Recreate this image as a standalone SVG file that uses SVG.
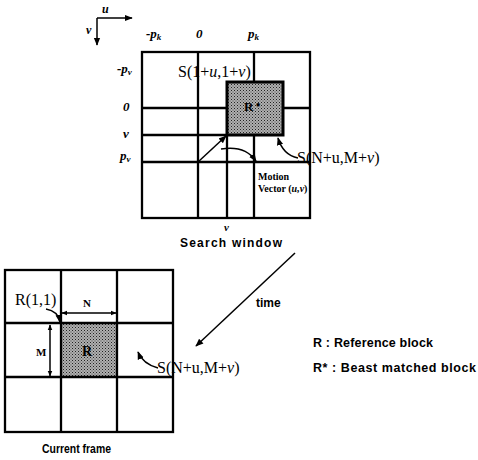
<svg xmlns="http://www.w3.org/2000/svg" width="478" height="460" viewBox="0 0 478 460">
<defs>
<pattern id="stip" width="3" height="3" patternUnits="userSpaceOnUse">
<rect width="3" height="3" fill="#b0b0b0"/>
<rect x="0" y="0" width="1" height="1" fill="#222"/>
<rect x="1.5" y="1.5" width="1" height="1" fill="#444"/>
</pattern>
<marker id="ah" viewBox="0 0 10 10" refX="9" refY="5" markerWidth="8" markerHeight="8" orient="auto-start-reverse" markerUnits="userSpaceOnUse"><path d="M0,1 L10,5 L0,9 z" fill="#000"/></marker>
<marker id="ahs" viewBox="0 0 10 10" refX="9" refY="5" markerWidth="6" markerHeight="6" orient="auto-start-reverse" markerUnits="userSpaceOnUse"><path d="M0,1 L10,5 L0,9 z" fill="#000"/></marker>
</defs>
<style>
.g{stroke:#000;stroke-width:2.3;fill:none}
.ser{font-family:"Liberation Serif","Times New Roman",serif;fill:#000}
.sb{font-family:"Liberation Serif","Times New Roman",serif;font-weight:bold;font-style:italic;fill:#000}
.sans{font-family:"Liberation Sans",Arial,sans-serif;font-weight:bold;fill:#000}
.c{stroke:#000;stroke-width:1.5;fill:none}
</style>
<rect width="478" height="460" fill="#fff"/>

<g id="axes">
<line class="c" x1="97" y1="18" x2="132" y2="18" marker-end="url(#ah)"/>
<line class="c" x1="97" y1="18" x2="97" y2="45" marker-end="url(#ah)"/>
<text class="sb" x="102" y="13" font-size="12">u</text>
<text class="sb" x="86" y="34" font-size="12">v</text>
</g>

<g id="search-window">
<rect x="142" y="52" width="168" height="166" class="g" stroke-width="2.6"/>
<line class="g" x1="198" y1="52" x2="198" y2="218"/>
<line class="g" x1="254" y1="52" x2="254" y2="218"/>
<line class="g" x1="142" y1="108" x2="310" y2="108"/>
<line class="g" x1="142" y1="162" x2="310" y2="162"/>
<line class="g" x1="142" y1="135" x2="227" y2="135"/>
<line class="g" x1="227" y1="135" x2="227" y2="218"/>
<rect x="227" y="82" width="56" height="53" fill="url(#stip)" stroke="#000" stroke-width="3"/>
<text class="ser" x="244" y="111" font-size="13" font-weight="bold">R</text>
<text class="ser" x="256" y="109" font-size="12" font-weight="bold">•</text>
<text class="ser" x="178" y="77" font-size="16">S(1+<tspan font-style="italic">u</tspan>,1+<tspan font-style="italic">v</tspan>)</text>
<text class="sb" x="146" y="38" font-size="13">-p<tspan font-size="9" dy="2">k</tspan></text>
<text class="sb" x="196" y="38" font-size="13">0</text>
<text class="sb" x="248" y="38" font-size="13">p<tspan font-size="9" dy="2">k</tspan></text>
<text class="sb" x="117" y="73" font-size="13">-p<tspan font-size="9" dy="2">v</tspan></text>
<text class="sb" x="123" y="111" font-size="13">0</text>
<text class="sb" x="123" y="138" font-size="13">v</text>
<text class="sb" x="120" y="160" font-size="13">p<tspan font-size="9" dy="2">v</tspan></text>
<text class="ser" x="297" y="163" font-size="16">S(N+u,M+<tspan font-style="italic">v</tspan>)</text>
<text class="ser" x="258" y="180" font-size="10" font-weight="bold">Motion</text>
<text class="ser" x="258" y="192" font-size="10" font-weight="bold">Vector (<tspan font-style="italic">u,v</tspan>)</text>
<text class="sb" x="224" y="231" font-size="11">v</text>
<text class="sans" x="180" y="247" font-size="12" textLength="102" lengthAdjust="spacing">Search window</text>
</g>

<g id="current-frame">
<rect x="61" y="323" width="56" height="54" fill="url(#stip)"/>
<rect x="5" y="270" width="168" height="162" class="g" stroke-width="2.6"/>
<line class="g" x1="61" y1="270" x2="61" y2="432"/>
<line class="g" x1="117" y1="270" x2="117" y2="432"/>
<line class="g" x1="5" y1="323" x2="173" y2="323"/>
<line class="g" x1="5" y1="377" x2="173" y2="377"/>
<text class="ser" x="82" y="356" font-size="14" font-weight="bold" fill="#111">R</text>
<text class="ser" x="15" y="305" font-size="16">R(1,1)</text>
<text class="ser" x="83" y="307" font-size="11" font-weight="bold">N</text>
<text class="ser" x="36" y="356" font-size="11" font-weight="bold">M</text>
<text class="ser" x="157" y="373" font-size="16">S(N+u,M+<tspan font-style="italic">v</tspan>)</text>
<text class="sans" x="42" y="453" font-size="12" textLength="69" lengthAdjust="spacingAndGlyphs">Current frame</text>
</g>

<g id="legend">
<text class="sans" x="313" y="347" font-size="12.5" textLength="120" lengthAdjust="spacing">R  : Reference block</text>
<text class="sans" x="313" y="372" font-size="12.5" textLength="163" lengthAdjust="spacing">R* : Beast matched block</text>
<text class="sans" x="256" y="307" font-size="12">time</text>
</g>

<g id="connectors">
<line class="c" x1="198" y1="162" x2="226" y2="136" marker-end="url(#ah)"/>
<path class="c" d="M221,149 Q245,145 256,161" marker-end="url(#ah)"/>
<path class="c" d="M298,158 Q283,155 278,138" marker-end="url(#ah)"/>
<line class="c" x1="295" y1="253" x2="196" y2="346" marker-end="url(#ah)"/>
<path class="c" d="M46,309 Q58,311 60,322" marker-end="url(#ah)"/>
<line class="c" x1="62" y1="313" x2="116" y2="313" marker-start="url(#ahs)" marker-end="url(#ahs)"/>
<line class="c" x1="50" y1="325" x2="50" y2="376" marker-start="url(#ahs)" marker-end="url(#ahs)"/>
<path class="c" d="M158,368 Q143,364 138,352" marker-end="url(#ah)"/>
</g>
</svg>
